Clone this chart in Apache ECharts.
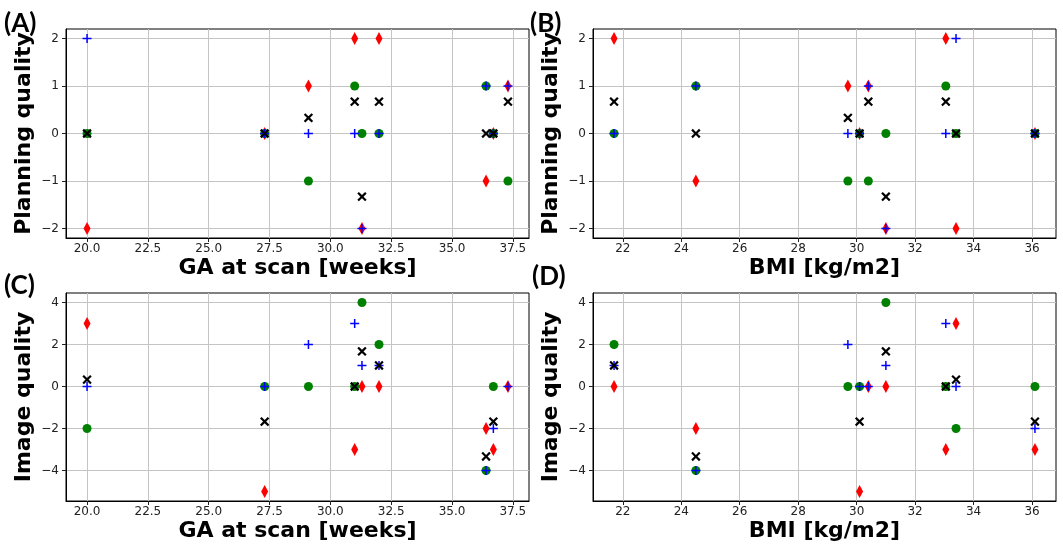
<!DOCTYPE html>
<html>
<head>
<meta charset="utf-8">
<script src="https://cdn.jsdelivr.net/npm/echarts@6/dist/echarts.min.js"></script>
<style>
  html, body { margin: 0; padding: 0; background: #fff; }
  #chart { width: 1063px; height: 556px; }
</style>
</head>
<body>
<div id="chart"></div>
<script>
// one entry per subject
var ga = [20.0, 27.3, 29.1, 31.0, 31.3, 32.0, 36.4, 36.7, 37.3];
var bmi = [33.4, 30.1, 29.7, 33.05, 31.0, 21.7, 24.5, 36.1, 30.4];

var planRed = [-2, 0, 1, 2, -2, 2, -1, 0, 1];
var planGreen = [0, 0, -1, 1, 0, 0, 1, 0, -1];
var planBlue = [2, 0, 0, 0, -2, 0, 1, 0, 1];
var planMean = [0, 0, 0.33, 0.67, -1.33, 0.67, 0, 0, 0.67];

var imgRed = [3, -5, null, -3, 0, 0, -2, -3, 0];
var imgGreen = [-2, 0, 0, 0, 4, 2, -4, 0, null];
var imgBlue = [0, 0, 2, 3, 1, 1, -4, -2, 0];
var imgMean = [0.33, -1.67, null, 0, 1.67, 1, -3.33, -1.67, null];

var gaTicks = [20, 22.5, 25, 27.5, 30, 32.5, 35, 37.5];
var bmiTicks = [22, 24, 26, 28, 30, 32, 34, 36];
var planTicks = [-2, -1, 0, 1, 2];
var imgTicks = [-4, -2, 0, 2, 4];

var chart = echarts.init(document.getElementById("chart"));

var PLUS = "path://M5,0H7V5H12V7H7V12H5V7H0V5H5Z";
var CROSS = "path://M4.4,0H6.6V4.4H11V6.6H6.6V11H4.4V6.6H0V4.4H4.4Z";

function pairs(xs, ys) {
  var out = [];
  for (var i = 0; i < xs.length; i++) {
    if (ys[i] !== null) out.push([xs[i], ys[i]]);
  }
  return out;
}

function fmt(dec) {
  return function (v) {
    return v.toFixed(dec).replace("-", "\u2212");
  };
}

var titleFont = {
  fontFamily: "DejaVu Sans",
  fontWeight: "bold",
  fontSize: 22,
  color: "#000",
};

function axis(gi, min, max, ticks, dec, name, isY) {
  return {
    type: "value",
    gridIndex: gi,
    min: min,
    max: max,
    name: name,
    nameLocation: "middle",
    nameGap: isY ? 31 : 19,
    nameTextStyle: titleFont,
    axisLine: { show: true, onZero: false, lineStyle: { color: "#000", width: 1 } },
    axisTick: { show: true, length: 4, customValues: ticks, lineStyle: { color: "#222" } },
    axisLabel: {
      customValues: ticks,
      formatter: fmt(dec),
      fontFamily: "DejaVu Sans",
      fontSize: 12,
      color: "#222",
      margin: isY ? 7 : 5,
    },
    splitLine: { show: true, lineStyle: { color: "#c4c4c4", width: 1 } },
  };
}

function group(gi, xs, red, green, blue, mean) {
  return [
    { type: "scatter", xAxisIndex: gi, yAxisIndex: gi, data: pairs(xs, red),
      symbol: "diamond", symbolSize: [7, 13], itemStyle: { color: "#ff0000", opacity: 1 } },
    { type: "scatter", xAxisIndex: gi, yAxisIndex: gi, data: pairs(xs, green),
      symbol: "circle", symbolSize: 9, itemStyle: { color: "#008000", opacity: 1 } },
    { type: "scatter", xAxisIndex: gi, yAxisIndex: gi, data: pairs(xs, blue),
      symbol: PLUS, symbolSize: 9, itemStyle: { color: "#0000ff", opacity: 1 } },
    { type: "scatter", xAxisIndex: gi, yAxisIndex: gi, data: pairs(xs, mean),
      symbol: CROSS, symbolSize: 11, symbolRotate: 45, itemStyle: { color: "#000", opacity: 1 } },
  ];
}

function letter(txt, x, y) {
  return {
    type: "text", left: x, top: y,
    style: { text: txt, font: "bold 26px Lato", fill: "#000" },
  };
}

var gridStyle = { show: true, borderColor: "#000", borderWidth: 1, backgroundColor: "transparent" };

var option = {
  animation: false,
  backgroundColor: "#fff",
  grid: [
    Object.assign({ left: 66, top: 29, width: 463, height: 209 }, gridStyle),
    Object.assign({ left: 593, top: 29, width: 463, height: 209 }, gridStyle),
    Object.assign({ left: 66, top: 293, width: 463, height: 208 }, gridStyle),
    Object.assign({ left: 593, top: 293, width: 463, height: 208 }, gridStyle),
  ],
  xAxis: [
    axis(0, 19.135, 38.165, gaTicks, 1, "GA at scan [weeks]", false),
    axis(1, 20.98, 36.82, bmiTicks, 0, "BMI [kg/m2]", false),
    axis(2, 19.135, 38.165, gaTicks, 1, "GA at scan [weeks]", false),
    axis(3, 20.98, 36.82, bmiTicks, 0, "BMI [kg/m2]", false),
  ],
  yAxis: [
    axis(0, -2.2, 2.2, planTicks, 0, "Planning quality", true),
    axis(1, -2.2, 2.2, planTicks, 0, "Planning quality", true),
    axis(2, -5.45, 4.45, imgTicks, 0, "Image quality", true),
    axis(3, -5.45, 4.45, imgTicks, 0, "Image quality", true),
  ],
  graphic: [
    letter("(A)", 4, 11),
    letter("(B)", 530, 11),
    letter("(C)", 4, 273),
    letter("(D)", 532, 264),
  ],
  series: [].concat(
    group(0, ga, planRed, planGreen, planBlue, planMean),
    group(1, bmi, planRed, planGreen, planBlue, planMean),
    group(2, ga, imgRed, imgGreen, imgBlue, imgMean),
    group(3, bmi, imgRed, imgGreen, imgBlue, imgMean)
  ),
};

chart.setOption(option);
</script>
</body>
</html>
